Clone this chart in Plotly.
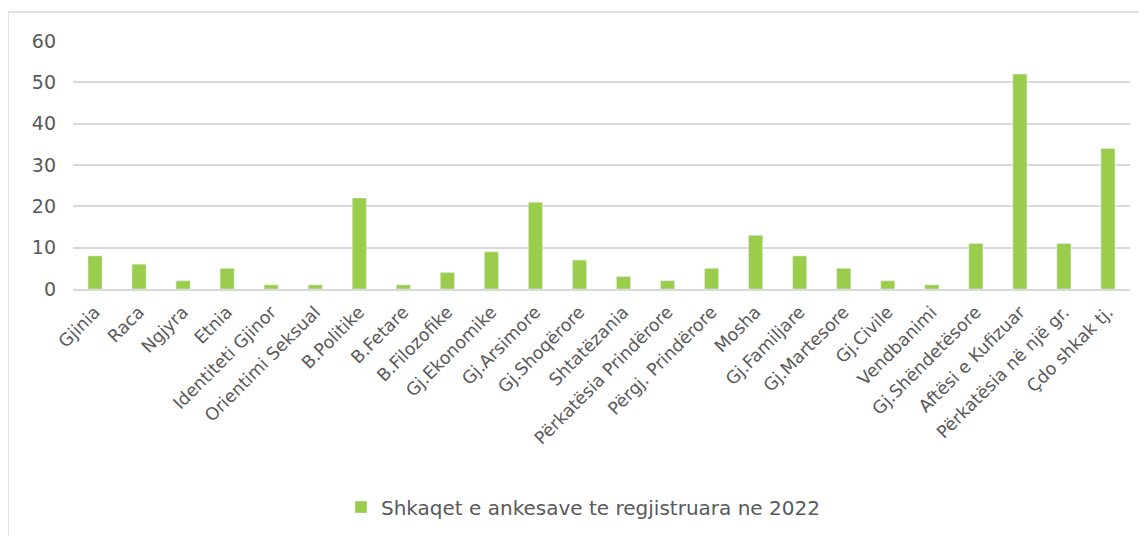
import plotly.graph_objects as go

categories = ["Gjinia", "Raca", "Ngjyra", "Etnia", "Identiteti Gjinor", "Orientimi Seksual",
              "B.Politike", "B.Fetare", "B.Filozofike", "Gj.Ekonomike", "Gj.Arsimore",
              "Gj.Shoqërore", "Shtatëzania", "Përkatësia Prindërore", "Përgj. Prindërore",
              "Mosha", "Gj.Familjare", "Gj.Martesore", "Gj.Civile", "Vendbanimi",
              "Gj.Shëndetësore", "Aftësi e Kufizuar", "Përkatësia në një gr.", "Çdo shkak tj."]
values = [8, 6, 2, 5, 1, 1, 22, 1, 4, 9, 21, 7, 3, 2, 5, 13, 8, 5, 2, 1, 11, 52, 11, 34]
series_name = "Shkaqet e ankesave te regjistruara ne 2022"
y_ticks = [0, 10, 20, 30, 40, 50, 60]

font_family = "'DejaVu Sans', sans-serif"
gray = "#595959"
border = "#d9d9d9"

fig = go.Figure()
fig.add_trace(go.Bar(x=categories, y=values, name=series_name,
                     marker=dict(color="#9BCD4C"), width=0.32, showlegend=True))

fig.update_layout(
    width=1147, height=536,
    margin=dict(l=65, r=25, t=33, b=255),
    paper_bgcolor="white", plot_bgcolor="white",
    font=dict(family=font_family, color=gray, size=17),
    showlegend=True,
    legend=dict(orientation="h", x=0.4825, xanchor="center", y=-0.879, yanchor="middle",
                font=dict(size=20, color=gray)),
)
fig.update_xaxes(tickangle=-45, tickfont=dict(size=17.5, color=gray), showline=True,
                 linecolor=border, linewidth=2, ticks="", showgrid=False,
                 ticklabelstandoff=4)
fig.update_yaxes(range=[0, 60], tickvals=y_ticks, showgrid=True, gridcolor=border,
                 gridwidth=1.5, zeroline=False, tickfont=dict(size=19, color=gray),
                 ticks="", ticklabelstandoff=16)
# chart-area border (left and top edges only visible)
fig.add_shape(type="line", xref="paper", yref="paper",
              x0=-0.0615, x1=1.05, y0=1.117, y1=1.117, line=dict(color=border, width=1.5))
fig.add_shape(type="line", xref="paper", yref="paper",
              x0=-0.0615, x1=-0.0615, y0=1.117, y1=-1.05, line=dict(color=border, width=1.5))
fig.write_html("out.html")
